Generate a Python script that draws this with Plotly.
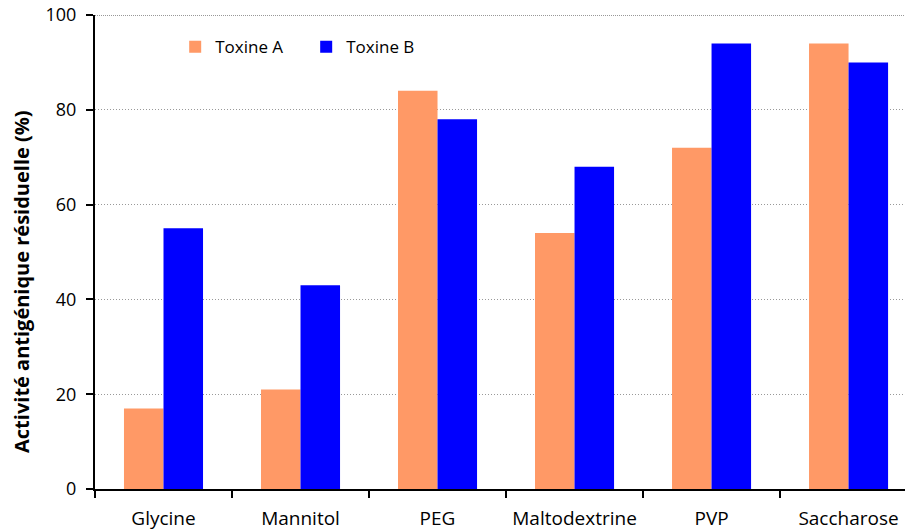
import plotly.graph_objects as go

categories = ["Glycine", "Mannitol", "PEG", "Maltodextrine", "PVP", "Saccharose"]
toxine_a = [17, 21, 84, 54, 72, 94]
toxine_b = [55, 43, 78, 68, 94, 90]
y_ticks = [0, 20, 40, 60, 80, 100]
y_title = "Activité antigénique résiduelle (%)"

FONT = "Open Sans"

fig = go.Figure()
fig.add_trace(go.Bar(name="Toxine A", x=categories, y=toxine_a,
                     marker=dict(color="#FF9966", line=dict(width=0))))
fig.add_trace(go.Bar(name="Toxine B", x=categories, y=toxine_b,
                     marker=dict(color="#0000FF", line=dict(width=0))))

fig.update_layout(
    width=905, height=530,
    margin=dict(l=95, r=0, t=15, b=41, autoexpand=False),
    paper_bgcolor="white", plot_bgcolor="white",
    barmode="group", bargap=0.423, bargroupgap=0,
    font=dict(family=FONT, size=19, color="black"),
    showlegend=True,
    legend=dict(orientation="h", x=0.099, y=0.97, xanchor="left", yanchor="top",
                bgcolor="rgba(0,0,0,0)", font=dict(size=17),
                entrywidth=86, entrywidthmode="pixels", itemwidth=30),
    xaxis=dict(
        range=[-0.5, 5.412], showline=True, linecolor="black", linewidth=2,
        ticks="outside", tickson="boundaries", ticklen=7, tickwidth=1.5, tickcolor="black",
        showgrid=False, ticklabelstandoff=11, tickfont=dict(size=19),
    ),
    yaxis=dict(
        range=[0, 100], tickvals=y_ticks, showline=True, linecolor="black", linewidth=2,
        ticks="outside", ticklen=7, tickwidth=1.5, tickcolor="black",
        showgrid=True, gridcolor="#999999", griddash="1px,2px", gridwidth=1,
        zeroline=False, ticklabelstandoff=6, tickfont=dict(size=18),
        ticklabeloverflow="allow",
    ),
    annotations=[dict(text="<b>" + y_title + "</b>", textangle=-90,
                      xref="paper", yref="paper", x=-0.09, y=0.437,
                      xanchor="center", yanchor="middle", showarrow=False,
                      font=dict(size=20))],
)
fig.add_shape(type="line", xref="paper", yref="y", x0=0, x1=1, y0=100, y1=100,
              line=dict(color="#333333", width=1.2, dash="1px,1px"))

fig.write_html("out.html", config={"displayModeBar": False},
               post_script="document.body.style.margin='0';")
